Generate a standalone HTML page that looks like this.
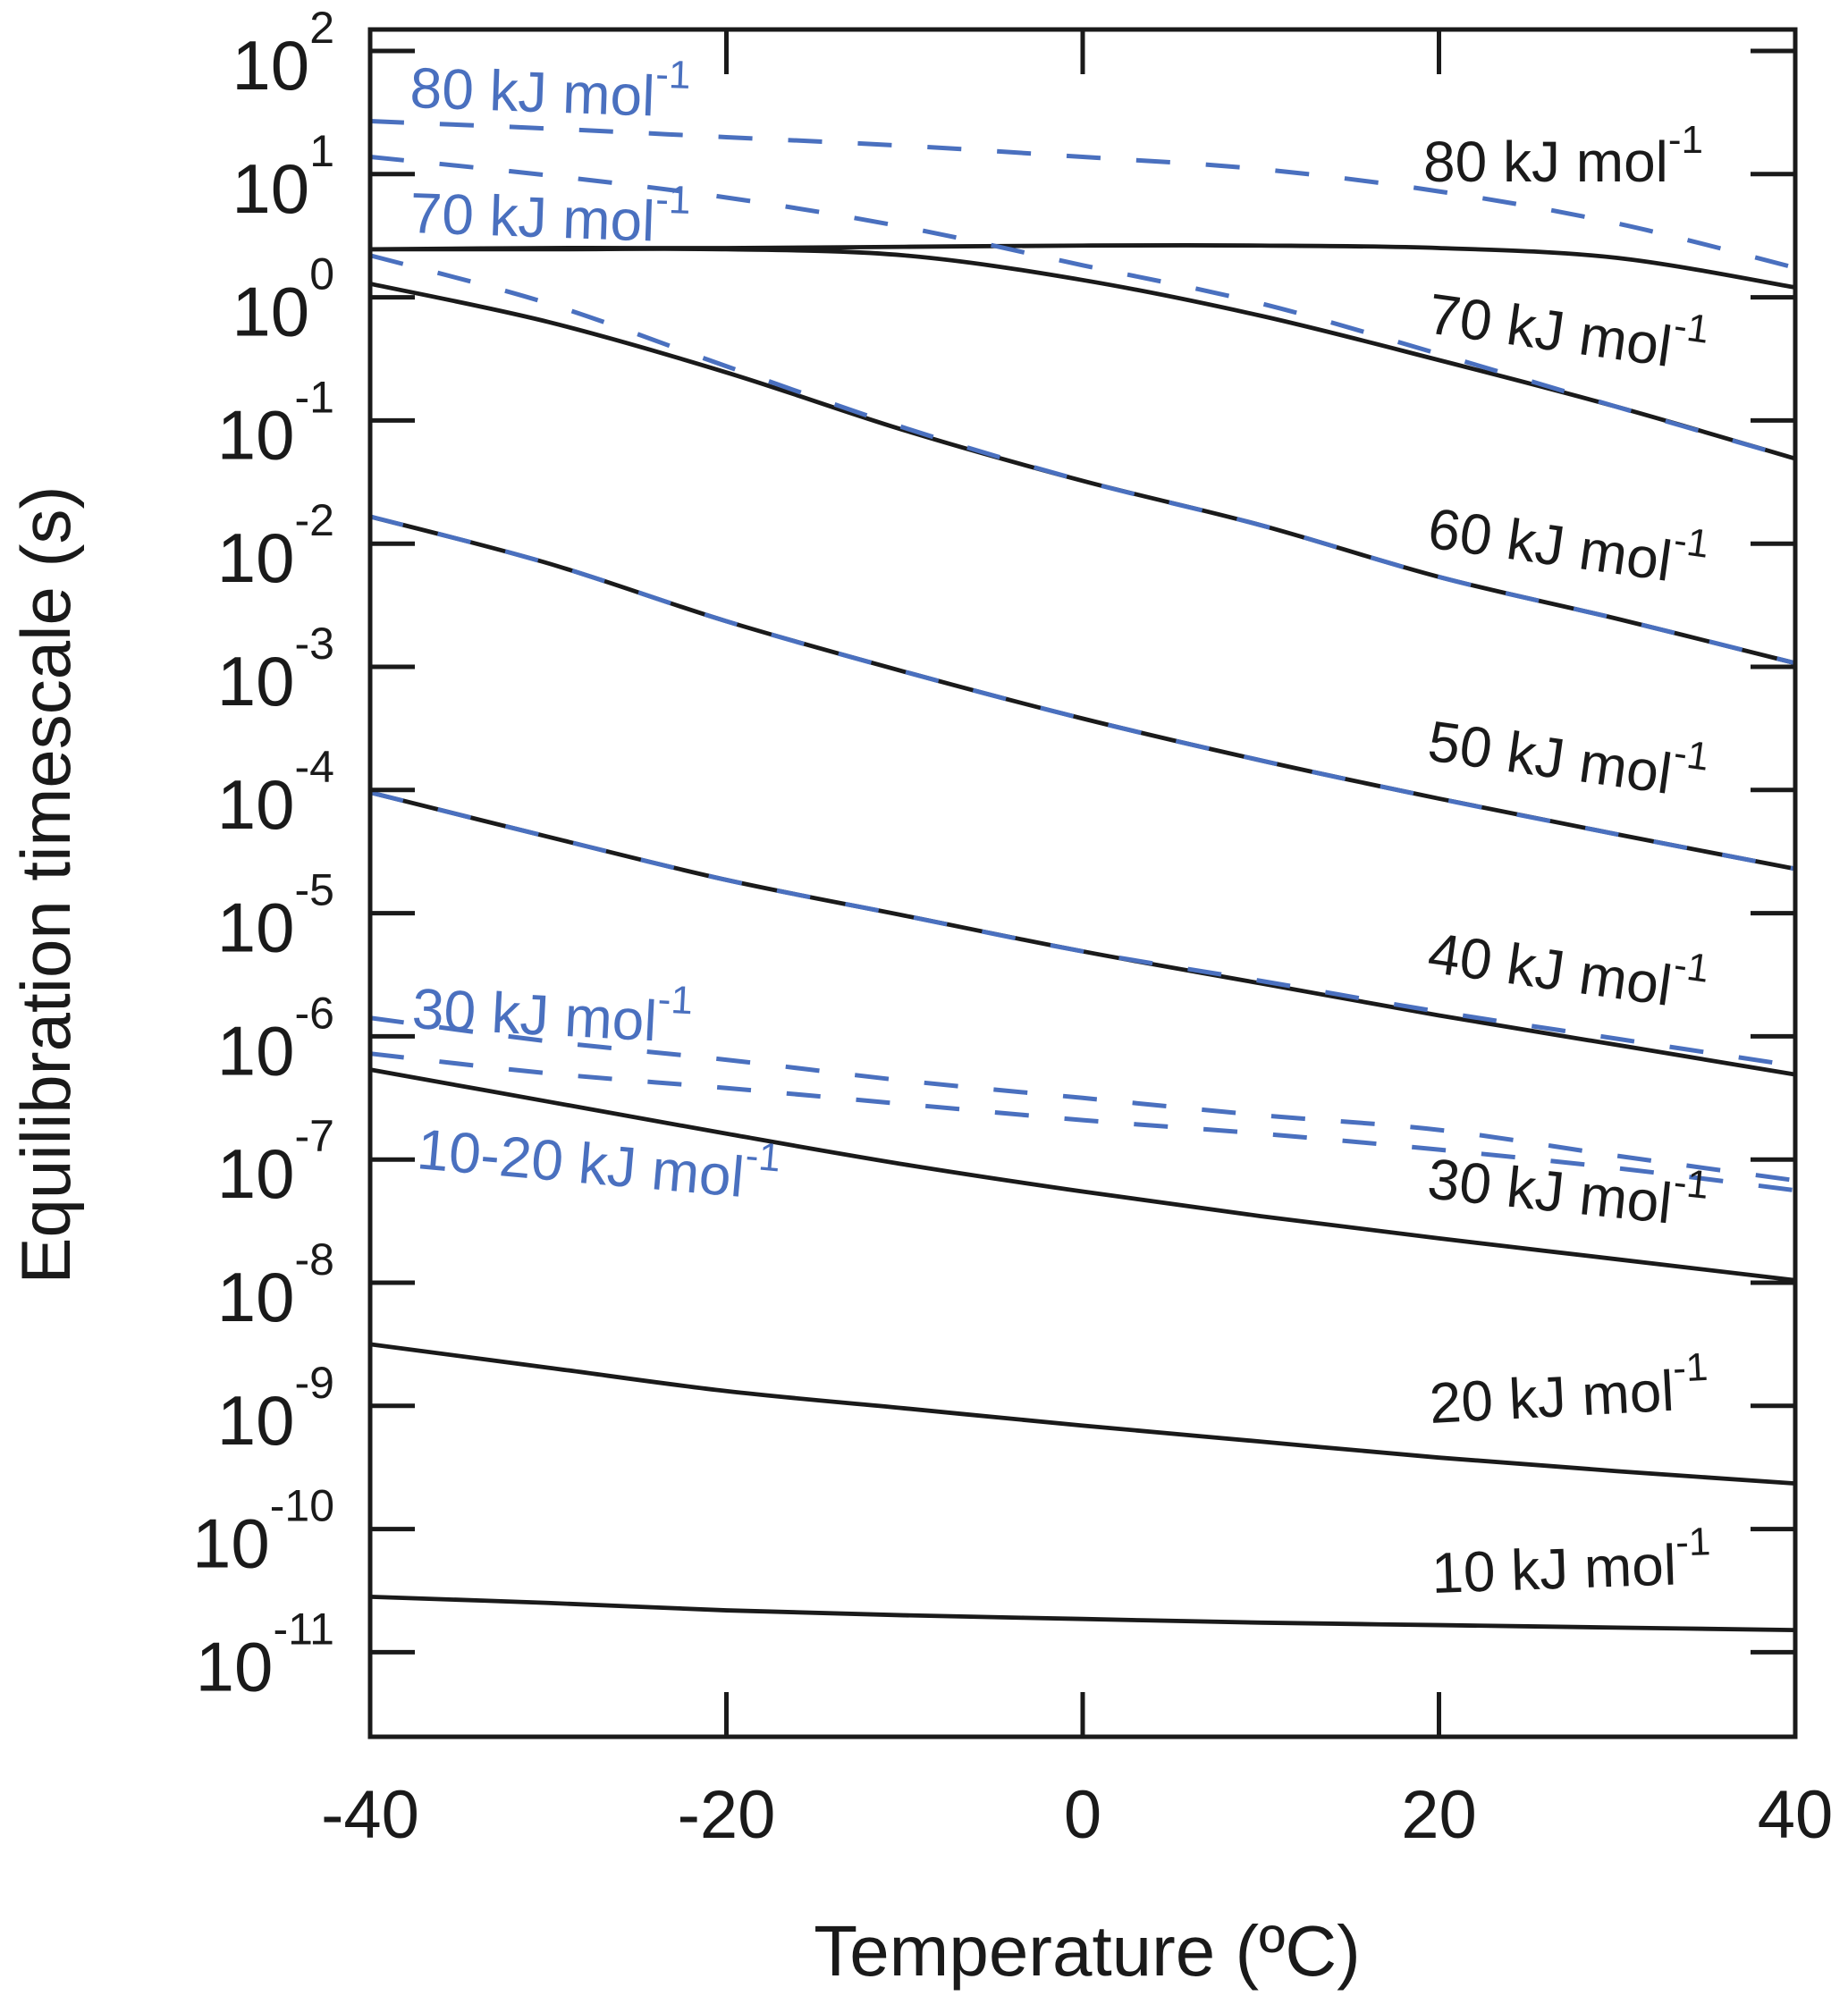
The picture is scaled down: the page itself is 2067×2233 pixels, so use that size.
<!DOCTYPE html>
<html><head><meta charset="utf-8"><style>
html,body{margin:0;padding:0;background:#fff}
svg{display:block;font-family:"Liberation Sans",Arial,sans-serif}
</style></head><body>
<svg id="chart" width="2067" height="2233" viewBox="0 0 2067 2233" xmlns="http://www.w3.org/2000/svg">
<g id="plot"></g>
<g id="axes"></g>
<g id="labels"></g>
</svg>
<script>
const temps = [-40,-30,-20,-10,0,10,20,30,40];
const decades = [2,1,0,-1,-2,-3,-4,-5,-6,-7,-8,-9,-10,-11];
const xTicks = [-40,-20,0,20,40];
// log10(timescale) values
const black80 = [0.39,0.40,0.40,0.41,0.42,0.42,0.40,0.32,0.08];
const black70 = [0.39,0.39,0.39,0.34,0.14,-0.15,-0.51,-0.89,-1.31];
const black60 = [0.11,-0.20,-0.61,-1.08,-1.49,-1.85,-2.27,-2.61,-2.97];
const black50 = [-1.78,-2.16,-2.63,-3.04,-3.42,-3.76,-4.07,-4.36,-4.64];
const black40 = [-4.02,-4.38,-4.73,-5.02,-5.31,-5.57,-5.83,-6.07,-6.31];
const black30 = [-6.27,-6.53,-6.79,-7.04,-7.26,-7.46,-7.64,-7.81,-7.98];
const black20 = [-8.50,-8.69,-8.88,-9.02,-9.16,-9.29,-9.42,-9.53,-9.63];
const black10 = [-10.55,-10.60,-10.66,-10.70,-10.73,-10.76,-10.78,-10.80,-10.82];
const blue80 = [1.43,1.37,1.30,1.23,1.14,1.04,0.86,0.60,0.24];
const blue70 = [1.14,0.99,0.81,0.57,0.26,-0.05,-0.46,-0.89,-1.31];
const blue60 = [0.34,-0.05,-0.56,-1.06,-1.49,-1.85,-2.27,-2.61,-2.97];
const blue50 = [-1.78,-2.16,-2.63,-3.04,-3.42,-3.76,-4.07,-4.36,-4.64];
const blue40 = [-4.02,-4.38,-4.73,-5.02,-5.31,-5.55,-5.80,-6.02,-6.24];
const blue30 = [-5.85,-6.04,-6.19,-6.36,-6.50,-6.64,-6.76,-6.97,-7.17];
const blue1020 = [-6.14,-6.30,-6.42,-6.55,-6.68,-6.79,-6.92,-7.07,-7.25];

const NS="http://www.w3.org/2000/svg";
const L=414,R=2008,T=33,B=1943;
const x = t => L + (t+40)/80*(R-L);
const y = lg => 57 + (2-lg)*137.8;
function mk(tag,attrs,parent){const e=document.createElementNS(NS,tag);for(const k in attrs)e.setAttribute(k,attrs[k]);parent.appendChild(e);return e;}
function pathFor(vals){
  const p=temps.map((t,i)=>[x(t),y(vals[i])]);
  let d=`M${p[0][0]},${p[0][1]}`;
  for(let i=0;i<p.length-1;i++){
    const p0=p[Math.max(i-1,0)],p1=p[i],p2=p[i+1],p3=p[Math.min(i+2,p.length-1)];
    const c1=[p1[0]+(p2[0]-p0[0])/6,p1[1]+(p2[1]-p0[1])/6];
    const c2=[p2[0]-(p3[0]-p1[0])/6,p2[1]-(p3[1]-p1[1])/6];
    d+=` C${c1[0]},${c1[1]} ${c2[0]},${c2[1]} ${p2[0]},${p2[1]}`;
  }
  return d;
}
const plot=document.getElementById('plot'),axes=document.getElementById('axes'),labels=document.getElementById('labels');
const blackSeries=[['80',black80],['70',black70],['60',black60],['50',black50],['40',black40],['30',black30],['20',black20],['10',black10]];
const blueSeries=[['80',blue80],['70',blue70],['60',blue60],['50',blue50],['40',blue40],['30',blue30],['10-20',blue1020]];
blackSeries.forEach(([n,v])=>{
  const e=mk('path',{d:pathFor(v),fill:'none',stroke:'#1a1a1a','stroke-width':4.8},plot);
  
  
});
blueSeries.forEach(([n,v])=>{
  const e=mk('path',{d:pathFor(v),fill:'none',stroke:'#4a70bf','stroke-width':5,'stroke-dasharray':'38 40'},plot);
  
  
});
// frame
const fr=mk('rect',{x:L,y:T,width:R-L,height:B-T,fill:'none',stroke:'#1a1a1a','stroke-width':5},axes);


decades.forEach(d=>{
  const yy=y(d);
  const t1=mk('line',{x1:L,x2:L+50,y1:yy,y2:yy,stroke:'#1a1a1a','stroke-width':5},axes);
  
  
  const t2=mk('line',{x1:R-50,x2:R,y1:yy,y2:yy,stroke:'#1a1a1a','stroke-width':5},axes);
  
  
  const tx=mk('text',{x:374,y:yy+43,'font-size':78,'text-anchor':'end',fill:'#1a1a1a'},axes);
  
  
  tx.appendChild(document.createTextNode('10'));
  const sp=mk('tspan',{dy:-52,'font-size':50},tx);sp.textContent=String(d);
});
xTicks.forEach(t=>{
  const xx=x(t);
  if(t>-40&&t<40){
    const a=mk('line',{x1:xx,x2:xx,y1:T,y2:T+50,stroke:'#1a1a1a','stroke-width':5},axes);
    
    
    const b=mk('line',{x1:xx,x2:xx,y1:B-50,y2:B,stroke:'#1a1a1a','stroke-width':5},axes);
    
    
  }
  const tx=mk('text',{x:xx,y:2056,'font-size':76,'text-anchor':'middle',fill:'#1a1a1a'},axes);
  
  
  tx.textContent=String(t);
});
const xt=mk('text',{x:1216,y:2210,'font-size':80,'text-anchor':'middle',fill:'#1a1a1a'},axes);


xt.textContent='Temperature (ºC)';
const yt=mk('text',{x:0,y:0,'font-size':78,'text-anchor':'middle',fill:'#1a1a1a',transform:'translate(78,990) rotate(-90)'},axes);


yt.textContent='Equilibration timescale (s)';
// series labels: [text, x, y, rotation, color]
const lbl=[
 ['80',1592,203,0,'#1a1a1a'],['70',1595,372,8,'#1a1a1a'],['60',1595,612,8,'#1a1a1a'],['50',1595,850,8,'#1a1a1a'],
 ['40',1595,1087,8,'#1a1a1a'],['30',1595,1340,6,'#1a1a1a'],['20',1600,1592,-3,'#1a1a1a'],['10',1602,1782,-2,'#1a1a1a'],
 ['80',458,120,2,'#4a70bf'],['70',458,260,2,'#4a70bf'],['30',460,1150,3,'#4a70bf'],['10-20',465,1307,5,'#4a70bf']
];
lbl.forEach(([n,lx,ly,r,c])=>{
  const tx=mk('text',{x:lx,y:ly,'font-size':64,fill:c,transform:`rotate(${r} ${lx} ${ly})`},labels);
  
  
  tx.appendChild(document.createTextNode(n+' kJ mol'));
  const sp=mk('tspan',{dy:-32,'font-size':44},tx);sp.textContent='-1';
});
</script>
</body></html>
